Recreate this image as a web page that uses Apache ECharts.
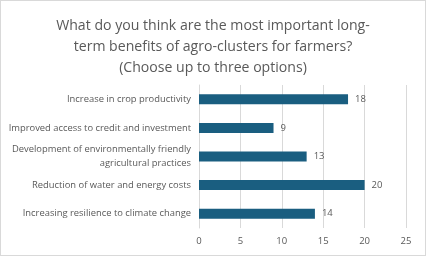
<!DOCTYPE html>
<html><head><meta charset="utf-8">
<script src="https://cdn.jsdelivr.net/npm/echarts@6/dist/echarts.min.js"></script>
<style>html,body{margin:0;padding:0;background:#fff}#c{width:426px;height:256px;box-sizing:border-box;border:1px solid #d9d9d9}</style>
</head><body><div id="c"></div>
<script>
const categories = [
  "Increase in crop productivity",
  "Improved access to credit and investment",
  "Development of environmentally friendly\nagricultural practices",
  "Reduction of water and energy costs",
  "Increasing resilience to climate change"
];
const values = [18, 9, 13, 20, 14];
const xTicks = [0, 5, 10, 15, 20, 25];
const titleText = "What do you think are the most important long-\nterm benefits of agro-clusters for farmers?\n(Choose up to three options)";

const chart = echarts.init(document.getElementById('c'), null, {renderer: 'canvas'});
chart.setOption({
  animation: false,
  title: {
    text: titleText, left: 'center', top: 9,
    textStyle: {fontFamily: 'Open Sans', fontSize: 14.1, fontWeight: 'normal', color: '#595959', lineHeight: 21}
  },
  grid: {left: 198, right: 19, top: 84, bottom: 27, containLabel: false},
  xAxis: {
    type: 'value', min: xTicks[0], max: xTicks[xTicks.length-1], interval: 5,
    axisLine: {show: false}, axisTick: {show: false},
    splitLine: {lineStyle: {color: '#d9d9d9', width: 1}},
    axisLabel: {color: '#595959', fontFamily: 'Open Sans', fontSize: 9.5, margin: 8}
  },
  yAxis: {
    type: 'category', data: categories, inverse: true,
    axisLine: {lineStyle: {color: '#d9d9d9'}}, axisTick: {show: false},
    axisLabel: {color: '#595959', fontFamily: 'Open Sans', fontSize: 9.4, margin: 8, align: 'right', lineHeight: 14}
  },
  series: [{
    type: 'bar', data: values, barWidth: 10, itemStyle: {color: '#1a5e80'},
    label: {show: true, position: 'right', distance: 7, color: '#595959', fontFamily: 'Open Sans', fontSize: 9.5}
  }]
});
</script></body></html>
